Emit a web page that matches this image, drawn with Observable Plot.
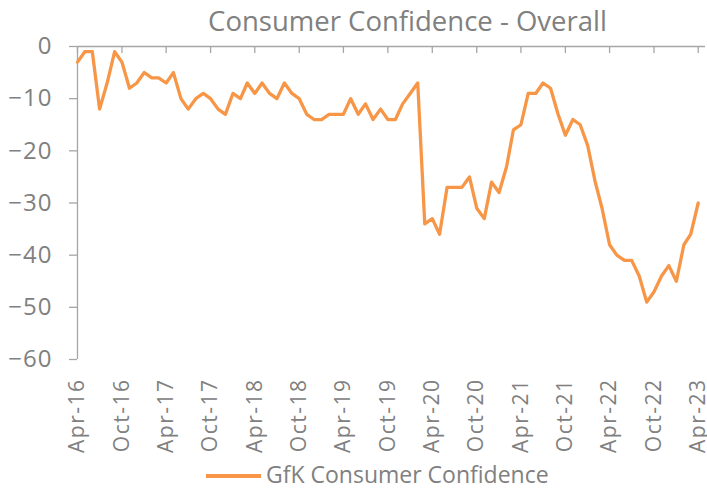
<!DOCTYPE html>
<html><head><meta charset="utf-8">
<script src="https://cdn.jsdelivr.net/npm/d3@7"></script>
<script src="https://cdn.jsdelivr.net/npm/@observablehq/plot@0.6"></script>
<style>
body{margin:0;background:#fff;font-family:"Open Sans",sans-serif;}
#wrap{position:relative;width:707px;height:491px;}
#title{position:absolute;left:108px;right:0;top:3px;text-align:center;font-size:27.5px;line-height:36px;color:#808080;white-space:nowrap;}
#chart{position:absolute;left:0;top:36px;}
#legend{position:absolute;left:206px;top:459px;height:31px;line-height:31px;display:flex;align-items:center;font-size:23px;color:#808080;white-space:nowrap;}
#legend .sw{display:inline-block;width:55px;height:3.5px;background:#f79646;margin-right:5px;margin-top:3px;}
#chart g[aria-label="y-axis tick label"]{font-size:24px;letter-spacing:1px;}
#chart g[aria-label="x-axis tick label"]{font-size:21px;letter-spacing:1.5px;}
</style></head><body>
<div id="wrap">
<div id="title">Consumer Confidence - Overall</div>
<div id="chart"></div>
<div id="legend"><span class="sw"></span><span id="legtext"></span></div>
</div>
<script>
const seriesName = "GfK Consumer Confidence";
const startMonth = "Apr-16";
const confidence = [
  -3, -1, -1, -12, -7, -1, -3, -8, -7,
  -5, -6, -6, -7, -5, -10, -12, -10, -9, -10, -12, -13,
  -9, -10, -7, -9, -7, -9, -10, -7, -9, -10, -13, -14,
  -14, -13, -13, -13, -10, -13, -11, -14, -12, -14, -14, -11,
  -9, -7, -34, -33, -36, -27, -27, -27, -25, -31, -33, -26,
  -28, -23, -16, -15, -9, -9, -7, -8, -13, -17, -14, -15,
  -19, -26, -31, -38, -40, -41, -41, -44, -49, -47, -44, -42,
  -45, -38, -36, -30
];
const yTicks = [0, -10, -20, -30, -40, -50, -60];
const xTickLabels = ["Apr-16","Oct-16","Apr-17","Oct-17","Apr-18","Oct-18","Apr-19","Oct-19","Apr-20","Oct-20","Apr-21","Oct-21","Apr-22","Oct-22","Apr-23"];

const parse = d3.utcParse("%b-%y");
const fmt = d3.utcFormat("%b-%y");
const start = parse(startMonth);
const data = confidence.map((v, i) => ({date: d3.utcMonth.offset(start, i), value: v}));
const xTicks = xTickLabels.map(parse);
const axisColor = "#a6a6a6";
const lineColor = "#f79646";

document.getElementById("legtext").textContent = seriesName;

const chart = Plot.plot({
  width: 707, height: 430,
  marginLeft: 77, marginRight: 2, marginTop: 10, marginBottom: 107,
  style: {fontFamily: "Open Sans", fontSize: "22px", color: "#808080", background: "transparent", overflow: "visible"},
  x: {type: "utc", domain: [start, d3.utcMonth.offset(xTicks[xTicks.length - 1], 1)]},
  y: {domain: [-60, 0]},
  marks: [
    Plot.axisX({ticks: xTicks, tickFormat: fmt, tickSize: 0, tickRotate: -90, tickPadding: 19, label: null}),
    Plot.axisY({ticks: yTicks, tickSize: 8, tickPadding: 17, label: null, stroke: axisColor, strokeWidth: 1.3}),
    Plot.ruleY([0], {stroke: axisColor, strokeWidth: 1.3}),
    Plot.ruleX([start], {y1: yTicks[yTicks.length - 1], y2: yTicks[0], stroke: axisColor, strokeWidth: 1.3}),
    Plot.ruleX(xTicks, {x: d => d, y1: 0, y2: 0, insetBottom: -7, stroke: axisColor, strokeWidth: 1.3}),
    Plot.line(data, {x: "date", y: "value", stroke: lineColor, strokeWidth: 3.3, strokeLinejoin: "round", strokeLinecap: "round"})
  ]
});
document.getElementById("chart").appendChild(chart);
</script>
</body></html>
